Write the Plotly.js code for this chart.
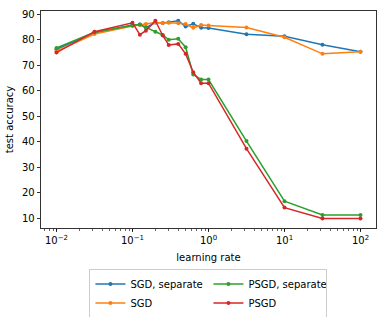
<!DOCTYPE html>
<html>
<head>
<meta charset="utf-8">
<script src="https://cdn.plot.ly/plotly-3.0.1.min.js"></script>
<style>html,body{margin:0;padding:0;background:#fff;}#chart{width:386px;height:317px;}</style>
</head>
<body>
<div id="chart"></div>
<script>
var learningRates = [0.01, 0.0316, 0.1, 0.125, 0.15, 0.2, 0.25, 0.3, 0.4, 0.5, 0.63, 0.8, 1.0, 3.16, 10, 31.6, 100];
var sgdSeparate  = [76.3, 82.8, 85.8, 86.0, 84.8, 86.8, 86.6, 86.9, 87.5, 85.2, 86.3, 84.7, 84.6, 82.2, 81.4, 78.1, 75.3];
var sgd          = [75.5, 82.3, 85.4, 85.8, 86.2, 86.8, 86.6, 86.7, 86.5, 86.2, 84.7, 85.8, 85.6, 84.8, 81.0, 74.5, 75.3];
var psgdSeparate = [76.8, 83.0, 85.6, 86.0, 84.9, 83.2, 81.9, 80.0, 80.4, 77.1, 66.4, 64.4, 64.4, 40.3, 16.7, 11.3, 11.3];
var psgd         = [75.0, 83.2, 86.7, 82.0, 83.6, 87.5, 81.7, 78.0, 78.4, 74.5, 67.3, 63.0, 63.0, 37.3, 14.2, 9.9, 9.9];
var seriesNames = ["SGD, separate", "SGD", "PSGD, separate", "PSGD"];
var xTickVals = [0.01, 0.1, 1, 10, 100];
var xTickText = ["10<sup>\u22122</sup>", "10<sup>\u22121</sup>", "10<sup>0</sup>", "10<sup>1</sup>", "10<sup>2</sup>"];
var yTickVals = [10, 20, 30, 40, 50, 60, 70, 80, 90];

var colors = ["#1f77b4", "#ff7f0e", "#2ca02c", "#d62728"];
var ranks = [1, 3, 2, 4];
var allY = [sgdSeparate, sgd, psgdSeparate, psgd];
var traces = allY.map(function (ys, i) {
  return {
    x: learningRates, y: ys, name: seriesNames[i],
    type: "scatter", mode: "lines+markers",
    line: {color: colors[i], width: 1.5},
    marker: {color: colors[i], size: 4},
    legendrank: ranks[i]
  };
});

var font = {family: "DejaVu Sans, sans-serif", size: 10, color: "#000"};
var layout = {
  width: 386, height: 317,
  margin: {l: 41, r: 10, t: 11, b: 89},
  paper_bgcolor: "#fff", plot_bgcolor: "#fff",
  font: font,
  showlegend: true,
  xaxis: {
    type: "log", range: [-2.204, 2.204],
    tickvals: xTickVals, ticktext: xTickText,
    ticks: "outside", ticklen: 3.5, tickwidth: 0.8, tickcolor: "#000",
    showline: true, linecolor: "#000", linewidth: 0.8, mirror: true,
    showgrid: false, zeroline: false,
    minor: {ticks: "outside", ticklen: 2, tickwidth: 0.6, tickcolor: "#000", dtick: "D1", showgrid: false},
    title: {text: "learning rate", font: font, standoff: 8},
    automargin: false
  },
  yaxis: {
    range: [6.2, 91.3],
    tickvals: yTickVals,
    ticks: "outside", ticklen: 3.5, tickwidth: 0.8, tickcolor: "#000",
    showline: true, linecolor: "#000", linewidth: 0.8, mirror: true,
    showgrid: false, zeroline: false,
    title: {text: "test accuracy", font: font, standoff: 6},
    automargin: false
  },
  legend: {
    orientation: "h",
    xref: "container", yref: "container",
    x: 0.540, xanchor: "center", y: 0.0741, yanchor: "middle",
    entrywidth: 73, entrywidthmode: "pixels",
    bordercolor: "#cccccc", borderwidth: 1, bgcolor: "#fff",
    font: font, traceorder: "normal", itemwidth: 30
  }
};
Plotly.newPlot("chart", traces, layout, {displayModeBar: false, staticPlot: true});
</script>
</body>
</html>
